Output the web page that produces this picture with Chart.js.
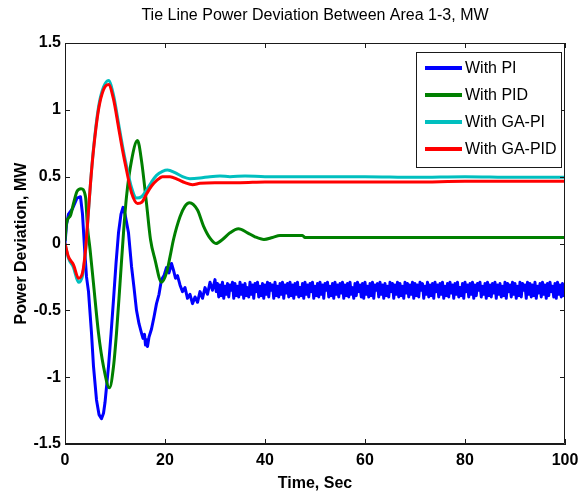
<!DOCTYPE html>
<html>
<head>
<meta charset="utf-8">
<title>Tie Line Power Deviation</title>
<script src="https://cdn.jsdelivr.net/npm/chart.js@4/dist/chart.umd.min.js"></script>
<style>
  html, body { margin: 0; padding: 0; background: #ffffff; }
  #wrap { width: 587px; height: 496px; position: relative; }
</style>
</head>
<body>
<div id="wrap"><canvas id="chart"></canvas></div>
<script>
// ---- text ----
const chartTitle = 'Tie Line Power Deviation Between Area 1-3, MW';
const xAxisTitle = 'Time, Sec';
const yAxisTitle = 'Power Deviation, MW';
const seriesNames = ['With PI', 'With PID', 'With GA-PI', 'With GA-PID'];
const seriesColors = ['#0000ff', '#008000', '#00bfbf', '#ff0000'];

// ---- axis ticks ----
const xTicks = [0, 20, 40, 60, 80, 100];
const yTicks = [-1.5, -1, -0.5, 0, 0.5, 1, 1.5];

// ---- With PI: transient part (time, deviation) ----
const piTime = [0, 0.3, 0.7, 1.5, 2.4, 3.1, 3.5, 3.9, 4.3, 4.7, 5.3, 5.7, 6.3, 6.8, 7.3, 7.7, 8.0, 8.7, 9.2, 9.7,
  10.2, 10.7, 11.2, 11.6, 12.0, 12.7, 13.3, 13.8, 14.3, 14.8, 15.3, 15.6, 15.9, 16.1, 16.3, 16.5, 16.8, 17.3, 17.8, 18.3,
  18.8, 19.3, 19.8, 20.3, 20.8, 21.3, 21.7, 22.1, 22.5, 23.0, 23.5, 24.0, 24.5, 25.0, 25.5, 26.0, 26.5, 27.0, 27.5, 28.0,
  28.5, 29.0, 29.5, 30.0];
const piValue = [0.00, 0.14, 0.22, 0.26, 0.34, 0.35, 0.22, -0.03, -0.25, -0.36, -0.67, -0.92, -1.17, -1.28, -1.31, -1.27, -1.19, -0.92, -0.68, -0.42,
  -0.15, 0.08, 0.22, 0.27, 0.22, 0.08, -0.17, -0.33, -0.50, -0.60, -0.67, -0.71, -0.68, -0.76, -0.72, -0.77, -0.70, -0.64, -0.55, -0.45,
  -0.38, -0.27, -0.24, -0.18, -0.22, -0.15, -0.20, -0.26, -0.24, -0.31, -0.36, -0.33, -0.41, -0.38, -0.45, -0.40, -0.44, -0.36, -0.41, -0.33,
  -0.38, -0.29, -0.35, -0.27];

// ---- With PI: steady ripple, sampled every 0.25 s from 30.25 s ----
const piRippleStart = 30.25;
const piRippleStep = 0.25;
const piRipple = [
  -0.36, -0.30, -0.40, -0.31, -0.39, -0.29, -0.41, -0.32, -0.38, -0.30, -0.40, -0.31, -0.35, -0.29, -0.41, -0.30, -0.39, -0.32, -0.40, -0.29,
  -0.38, -0.31, -0.41, -0.30, -0.39, -0.33, -0.40, -0.29, -0.38, -0.31, -0.41, -0.30, -0.36, -0.29, -0.40, -0.32, -0.39, -0.30, -0.41, -0.31,
  -0.38, -0.29, -0.40, -0.30, -0.35, -0.31, -0.41, -0.29, -0.39, -0.32, -0.40, -0.30, -0.38, -0.29, -0.41, -0.31, -0.37, -0.30, -0.40, -0.29,
  -0.39, -0.31, -0.41, -0.30, -0.38, -0.29, -0.40, -0.33, -0.39, -0.30, -0.41, -0.29, -0.38, -0.31, -0.40, -0.30, -0.36, -0.29, -0.41, -0.32,
  -0.39, -0.30, -0.40, -0.29, -0.38, -0.31, -0.41, -0.30, -0.35, -0.29, -0.40, -0.32, -0.39, -0.30, -0.41, -0.29, -0.38, -0.31, -0.40, -0.30,
  -0.37, -0.29, -0.41, -0.31, -0.39, -0.30, -0.40, -0.29, -0.38, -0.33, -0.41, -0.30, -0.39, -0.29, -0.36, -0.31, -0.40, -0.30, -0.41, -0.29,
  -0.38, -0.32, -0.40, -0.30, -0.39, -0.29, -0.41, -0.31, -0.35, -0.30, -0.40, -0.29, -0.38, -0.31, -0.41, -0.30, -0.39, -0.32, -0.40, -0.29,
  -0.36, -0.30, -0.41, -0.31, -0.38, -0.29, -0.40, -0.30, -0.39, -0.32, -0.41, -0.29, -0.37, -0.30, -0.40, -0.31, -0.38, -0.29, -0.41, -0.30,
  -0.39, -0.31, -0.40, -0.29, -0.35, -0.30, -0.41, -0.32, -0.38, -0.29, -0.40, -0.31, -0.39, -0.30, -0.41, -0.29, -0.36, -0.31, -0.40, -0.30,
  -0.38, -0.29, -0.41, -0.32, -0.39, -0.30, -0.40, -0.29, -0.37, -0.31, -0.41, -0.30, -0.38, -0.29, -0.40, -0.33, -0.39, -0.30, -0.41, -0.29,
  -0.36, -0.31, -0.40, -0.30, -0.38, -0.29, -0.41, -0.31, -0.39, -0.30, -0.35, -0.29, -0.40, -0.32, -0.38, -0.30, -0.41, -0.29, -0.39, -0.31,
  -0.40, -0.30, -0.37, -0.29, -0.41, -0.31, -0.38, -0.30, -0.40, -0.32, -0.39, -0.29, -0.41, -0.30, -0.36, -0.31, -0.40, -0.29, -0.38, -0.30,
  -0.41, -0.32, -0.39, -0.29, -0.40, -0.30, -0.35, -0.31, -0.41, -0.29, -0.38, -0.30, -0.40, -0.31, -0.39, -0.29, -0.41, -0.32, -0.37, -0.30,
  -0.40, -0.29, -0.38, -0.31, -0.41, -0.30, -0.39, -0.29, -0.36, -0.32, -0.40, -0.30, -0.41, -0.29, -0.38, -0.31, -0.40, -0.30, -0.39, -0.34
];

// ---- With PID ----
const pidTime = [0, 0.3, 1.1, 1.7, 2.4, 3.2, 4.1, 4.5, 5.0, 5.7, 6.7, 7.7, 8.9, 9.7, 10.3, 11.0, 11.7, 12.3, 13.3, 14.5,
  15.3, 16.3, 17.1, 18.0, 19.3, 20.3, 21.0, 21.7, 23.0, 24.0, 24.9, 26.5, 27.7, 29.0, 30.2, 31.5, 33.0, 34.7, 36.5, 38.0,
  39.8, 41.5, 43.0, 47.5, 48.0, 60, 70, 80, 90, 100];
const pidValue = [0.02, 0.15, 0.21, 0.30, 0.39, 0.41, 0.35, 0.12, -0.04, -0.30, -0.67, -0.92, -1.08, -0.92, -0.67, -0.30, 0.08, 0.35, 0.62, 0.77,
  0.62, 0.30, 0.03, -0.12, -0.29, -0.22, -0.10, 0.03, 0.20, 0.28, 0.305, 0.25, 0.13, 0.04, 0.00, 0.03, 0.08, 0.11, 0.08, 0.05,
  0.03, 0.045, 0.06, 0.06, 0.045, 0.045, 0.045, 0.045, 0.045, 0.045];

// ---- With GA-PI ----
const gaPiTime = [0, 0.7, 1.7, 2.7, 3.5, 4.1, 4.6, 5.1, 5.7, 6.7, 7.7, 8.7, 9.7, 10.7, 11.5, 12.3, 13.3, 14.3, 15.3, 16.3,
  17.3, 18.3, 19.5, 20.5, 22.0, 23.5, 25.0, 27.0, 29.0, 31.0, 33.0, 36.0, 40, 45, 50, 60, 70, 80, 90, 100];
const gaPiValue = [0, -0.11, -0.18, -0.29, -0.24, -0.06, 0.19, 0.45, 0.71, 1.02, 1.17, 1.22, 1.11, 0.90, 0.73, 0.58, 0.42, 0.34, 0.35, 0.40,
  0.46, 0.51, 0.54, 0.55, 0.53, 0.50, 0.485, 0.49, 0.50, 0.505, 0.50, 0.505, 0.50, 0.50, 0.50, 0.50, 0.495, 0.50, 0.495, 0.495];

// ---- With GA-PID ----
const gaPidTime = [0, 0.7, 1.7, 2.7, 3.5, 4.1, 4.6, 5.1, 5.7, 6.7, 7.7, 8.7, 9.7, 10.7, 11.5, 12.3, 13.3, 14.5, 15.4, 16.3,
  17.3, 18.3, 19.5, 21.0, 22.5, 24.0, 25.5, 27.0, 30, 35, 40, 50, 60, 70, 80, 90, 100];
const gaPidValue = [0, -0.10, -0.16, -0.26, -0.22, -0.05, 0.20, 0.45, 0.70, 1.00, 1.15, 1.19, 1.08, 0.87, 0.70, 0.55, 0.38, 0.30, 0.31, 0.37,
  0.43, 0.47, 0.50, 0.50, 0.48, 0.455, 0.44, 0.45, 0.455, 0.455, 0.46, 0.46, 0.46, 0.46, 0.465, 0.465, 0.465];

// ---- assemble point lists ----
function pairUp(times, values) {
  return times.map((t, i) => ({ x: t, y: values[i] }));
}
const piPoints = pairUp(piTime, piValue).concat(
  piRipple.map((v, i) => ({ x: piRippleStart + i * piRippleStep, y: v }))
);

const FONT = '"Liberation Sans", Arial, sans-serif';
const INK = '#1a1a1a';

// box around the plot with inward tick marks on all four sides
const framePlugin = {
  id: 'frame',
  afterDatasetsDraw(chart) {
    const { ctx, chartArea: a, scales } = chart;
    const len = 5;
    ctx.save();
    ctx.strokeStyle = INK;
    ctx.lineWidth = 1;
    ctx.beginPath();
    ctx.rect(a.left + 0.5, a.top + 0.5, a.right - a.left - 1, a.bottom - a.top - 1);
    scales.x.ticks.forEach(t => {
      const px = Math.round(scales.x.getPixelForValue(t.value)) + 0.5;
      ctx.moveTo(px, a.bottom); ctx.lineTo(px, a.bottom - len);
      ctx.moveTo(px, a.top); ctx.lineTo(px, a.top + len);
    });
    scales.y.ticks.forEach(t => {
      const py = Math.round(scales.y.getPixelForValue(t.value)) + 0.5;
      ctx.moveTo(a.left, py); ctx.lineTo(a.left + len, py);
      ctx.moveTo(a.right, py); ctx.lineTo(a.right - len, py);
    });
    ctx.stroke();
    ctx.restore();
  }
};

// boxed legend in the upper right corner of the plot
const boxLegendPlugin = {
  id: 'boxLegend',
  afterDraw(chart) {
    const { ctx, chartArea: a } = chart;
    const left = a.right - 149, top = a.top + 9, w = 145, h = 115;
    ctx.save();
    ctx.fillStyle = '#ffffff';
    ctx.fillRect(left, top, w, h);
    ctx.strokeStyle = INK;
    ctx.lineWidth = 1;
    ctx.strokeRect(left + 0.5, top + 0.5, w, h);
    ctx.font = '16px ' + FONT;
    ctx.textBaseline = 'middle';
    ctx.textAlign = 'left';
    chart.data.datasets.forEach((ds, i) => {
      const y = top + 16 + i * 27;
      ctx.strokeStyle = ds.borderColor;
      ctx.lineWidth = 4;
      ctx.beginPath();
      ctx.moveTo(left + 9, y); ctx.lineTo(left + 46, y);
      ctx.stroke();
      ctx.fillStyle = '#000000';
      ctx.fillText(ds.label, left + 49, y + 1);
    });
    ctx.restore();
  }
};

// chart heading above the plot
const headingPlugin = {
  id: 'heading',
  afterDraw(chart) {
    const { ctx, chartArea: a } = chart;
    ctx.save();
    ctx.font = '16px ' + FONT;
    ctx.fillStyle = '#000000';
    ctx.textAlign = 'center';
    ctx.textBaseline = 'middle';
    ctx.fillText(chartTitle, (a.left + a.right) / 2, 16);
    ctx.restore();
  }
};

const lineStyle = { pointRadius: 0, borderWidth: 3, fill: false, borderJoinStyle: 'round' };

new Chart(document.getElementById('chart'), {
  type: 'line',
  data: {
    datasets: [
      { ...lineStyle, label: seriesNames[0], data: piPoints, borderColor: seriesColors[0], tension: 0, order: 4 },
      { ...lineStyle, label: seriesNames[1], data: pairUp(pidTime, pidValue), borderColor: seriesColors[1], cubicInterpolationMode: 'monotone', order: 3 },
      { ...lineStyle, label: seriesNames[2], data: pairUp(gaPiTime, gaPiValue), borderColor: seriesColors[2], cubicInterpolationMode: 'monotone', order: 2 },
      { ...lineStyle, label: seriesNames[3], data: pairUp(gaPidTime, gaPidValue), borderColor: seriesColors[3], cubicInterpolationMode: 'monotone', order: 1 }
    ]
  },
  options: {
    responsive: true,
    maintainAspectRatio: false,
    animation: false,
    events: [],
    layout: { padding: { top: 43, right: 22, bottom: 0, left: 0 } },
    plugins: { legend: { display: false }, tooltip: { enabled: false }, title: { display: false } },
    scales: {
      x: {
        type: 'linear',
        min: xTicks[0],
        max: xTicks[xTicks.length - 1],
        afterBuildTicks: s => { s.ticks = xTicks.map(v => ({ value: v })); },
        afterFit: s => { s.height = 52; },
        grid: { display: false, drawTicks: false },
        border: { display: true, color: INK, width: 1 },
        ticks: { color: '#000000', padding: 7, font: { family: FONT, size: 16, weight: 'bold' }, callback: v => String(v) },
        title: { display: true, text: xAxisTitle, color: '#000000', padding: { top: 0, bottom: 3 }, font: { family: FONT, size: 16, weight: 'bold' } }
      },
      y: {
        type: 'linear',
        min: yTicks[0],
        max: yTicks[yTicks.length - 1],
        afterBuildTicks: s => { s.ticks = yTicks.map(v => ({ value: v })); },
        afterFit: s => { s.width = 65; },
        grid: { display: false, drawTicks: false },
        border: { display: true, color: INK, width: 1 },
        ticks: { color: '#000000', padding: 4, font: { family: FONT, size: 16, weight: 'bold' }, callback: v => String(v) },
        title: { display: true, text: yAxisTitle, color: '#000000', padding: { top: 12, bottom: 0 }, font: { family: FONT, size: 16, weight: 'bold' } }
      }
    }
  },
  plugins: [framePlugin, boxLegendPlugin, headingPlugin]
});
</script>
</body>
</html>
